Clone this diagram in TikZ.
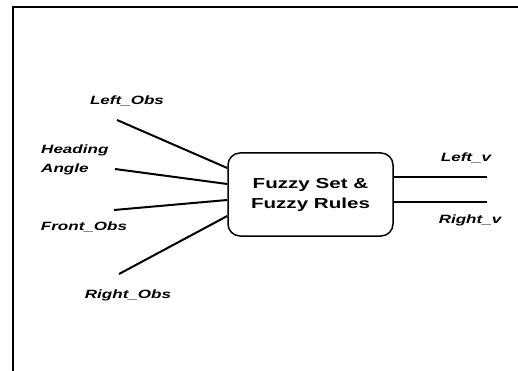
\documentclass[tikz,border=0pt]{standalone}
\usepackage{fontspec}
\newfontfamily\labelfont[FakeStretch=1.42]{Liberation Sans}
\usetikzlibrary{positioning}
\tikzset{
  sig/.style={font=\labelfont\fontsize{12}{18.5}\selectfont\bfseries\itshape, inner sep=0pt},
  wire/.style={line width=2pt},
  outwire/.style={line width=1.4pt},
  rulebox/.style={draw, line width=1.5pt, rounded corners=12pt,
    minimum width=165pt, minimum height=83pt, align=center,
    font=\labelfont\fontsize{14.5}{20}\selectfont\bfseries}
}

\begin{document}
\begin{tikzpicture}[x=1pt, y=-1pt]
  \useasboundingbox (0,0) rectangle (518,371);
  % frame
  \draw[line width=2pt] (13,371) -- (13,7) -- (518,7);

  % controller
  \node[rulebox] (rules) at (310.5,194.5) {Fuzzy Set \&\\Fuzzy Rules};

  % inputs
  \node[sig] (lobs) at (127,101) {Left\_Obs};
  \node[sig, anchor=west, align=left] (head) at (41,160) {Heading\\Angle};
  \node[sig] (fobs) at (84,227) {Front\_Obs};
  \node[sig] (robs) at (128,295) {Right\_Obs};
  \coordinate (lo) at (117,120);
  \coordinate (ha) at (115,169);
  \coordinate (fo) at (114,210);
  \coordinate (ro) at (119,274);
  \draw[wire] (lo) -- ([yshift=26.5pt]rules.west);
  \draw[wire] (ha) -- ([yshift=10.5pt]rules.west);
  \draw[wire] (fo) -- ([yshift=-5.5pt]rules.west);
  \draw[wire] (ro) -- ([yshift=-21.5pt]rules.west);

  % outputs
  \node[sig] (lv) at (466,158) {Left\_v};
  \node[sig] (rv) at (470,220) {Right\_v};
  \coordinate (lvend) at (487,177);
  \coordinate (rvend) at (487,202);
  \draw[outwire] (rules.east |- lvend) -- (lvend);
  \draw[outwire] (rules.east |- rvend) -- (rvend);
\end{tikzpicture}
\end{document}
